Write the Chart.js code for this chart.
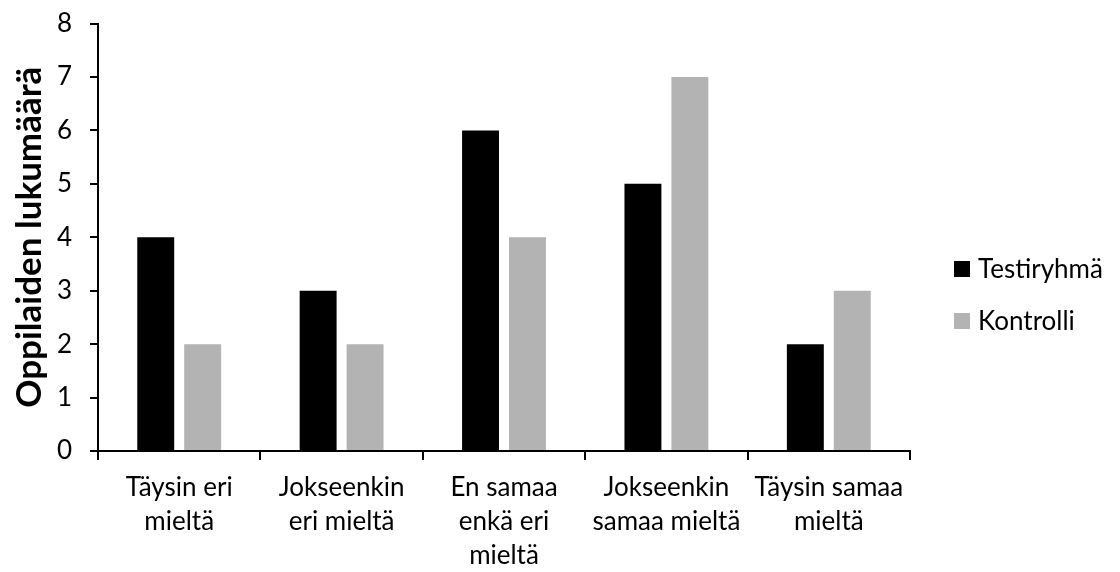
<!DOCTYPE html>
<html>
<head>
<meta charset="utf-8">
<script src="https://cdn.jsdelivr.net/npm/chart.js@4"></script>
<style>
  html, body { margin: 0; padding: 0; background: #fff; }
  #wrap { width: 1120px; height: 572px; position: relative; }
</style>
</head>
<body>
<div id="wrap"><canvas id="chart"></canvas></div>
<script>
// Survey answers: number of pupils per response option
const categories = [
  ["Täysin eri", "mieltä"],
  ["Jokseenkin", "eri mieltä"],
  ["En samaa", "enkä eri", "mieltä"],
  ["Jokseenkin", "samaa mieltä"],
  ["Täysin samaa", "mieltä"]
];
const testGroup = [4, 3, 6, 5, 2];
const controlGroup = [2, 2, 4, 7, 3];
const seriesNames = ["Testiryhmä", "Kontrolli"];
const yTicks = [0, 1, 2, 3, 4, 5, 6, 7, 8];

const FONT = "Lato, 'Open Sans', sans-serif";

// Legend drawn at the right, vertically stacked with square swatches
const sideLegend = {
  id: 'sideLegend',
  afterDraw(chart, args, opts) {
    const ctx = chart.ctx;
    ctx.save();
    ctx.font = opts.size + 'px ' + FONT;
    ctx.textBaseline = 'middle';
    ctx.textAlign = 'left';
    chart.data.datasets.forEach((ds, i) => {
      const cy = opts.y + i * opts.gap;
      ctx.fillStyle = ds.backgroundColor;
      ctx.fillRect(opts.x, cy - opts.box / 2, opts.box, opts.box);
      ctx.fillStyle = '#000';
      ctx.fillText(ds.label, opts.x + opts.box + 8, cy + 1);
    });
    ctx.restore();
  }
};

new Chart(document.getElementById('chart'), {
  type: 'bar',
  data: {
    labels: categories,
    datasets: [
      { label: seriesNames[0], data: testGroup, backgroundColor: '#000000',
        categoryPercentage: 0.578, barPercentage: 0.787 },
      { label: seriesNames[1], data: controlGroup, backgroundColor: '#b3b3b3',
        categoryPercentage: 0.578, barPercentage: 0.787 }
    ]
  },
  options: {
    responsive: true,
    maintainAspectRatio: false,
    animation: false,
    layout: { padding: { top: 23.5, right: 210, bottom: 0, left: 0 } },
    plugins: {
      legend: { display: false },
      tooltip: { enabled: false },
      sideLegend: { x: 954, y: 269, gap: 52, box: 16, size: 26 }
    },
    scales: {
      x: {
        grid: { offset: true, drawOnChartArea: false, color: '#000', lineWidth: 2, tickLength: 9 },
        border: { color: '#000', width: 2 },
        ticks: { color: '#000', font: { family: FONT, size: 26, lineHeight: 1.3 }, padding: 11, maxRotation: 0, autoSkip: false },
        afterFit(scale) { scale.height = 121; scale.paddingLeft = 0; scale.paddingRight = 0; }
      },
      y: {
        min: 0,
        max: 8,
        afterBuildTicks(scale) { scale.ticks = yTicks.map(v => ({ value: v })); },
        grid: { drawOnChartArea: false, color: '#000', lineWidth: 2, tickLength: 8 },
        border: { color: '#000', width: 2 },
        ticks: { color: '#000', font: { family: FONT, size: 26 }, padding: 18 },
        title: {
          display: true,
          text: 'Oppilaiden lukumäärä',
          color: '#000',
          font: { family: FONT, size: 35, weight: 'bold' },
          padding: { top: 9, bottom: 0 }
        },
        afterFit(scale) { scale.width = 98; scale.paddingTop = 0; scale.paddingBottom = 0; }
      }
    }
  },
  plugins: [sideLegend]
});
</script>
</body>
</html>
